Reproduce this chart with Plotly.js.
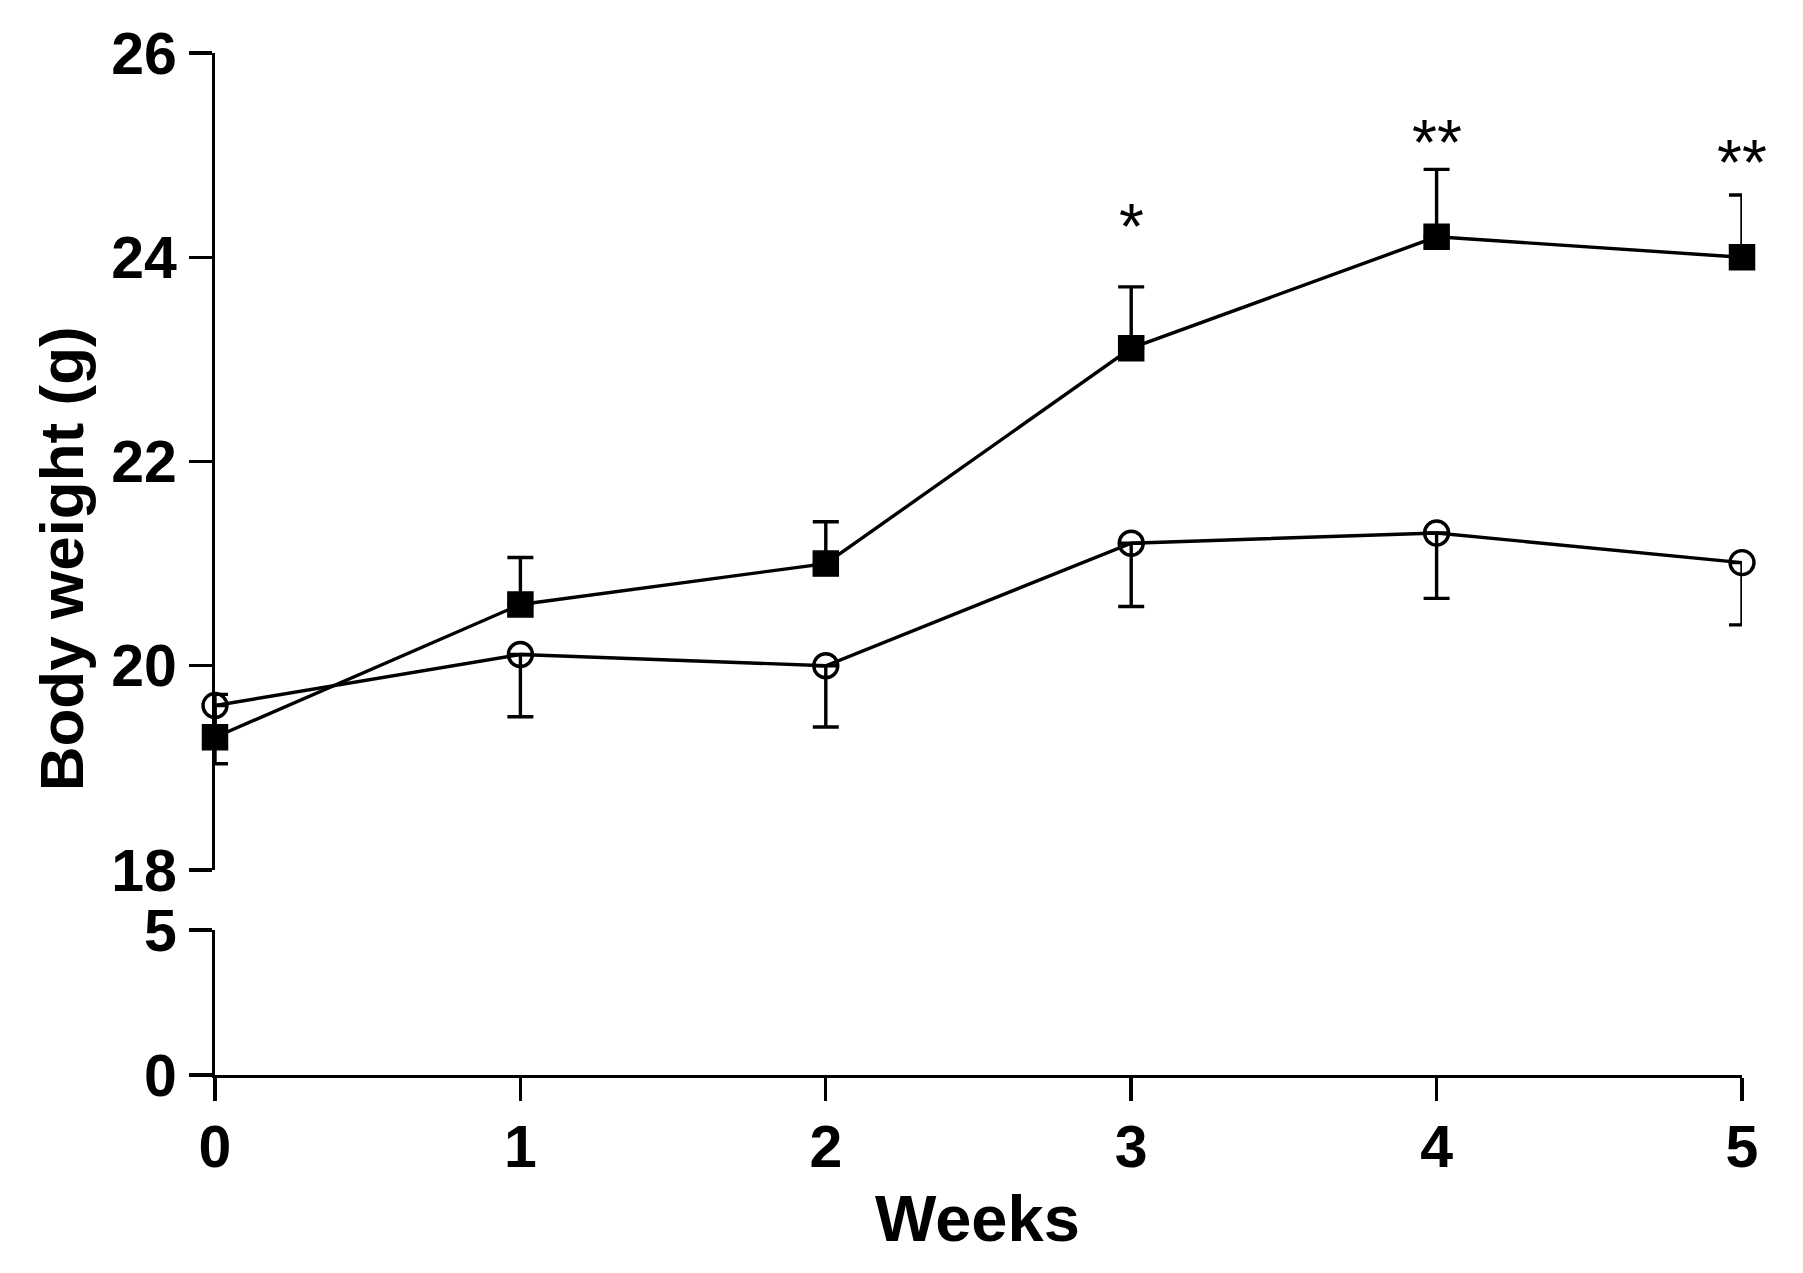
<!DOCTYPE html>
<html>
<head>
<meta charset="utf-8">
<script src="https://cdn.plot.ly/plotly-3.0.1.min.js"></script>
<style>html,body{margin:0;padding:0;background:#fff;}#chart{width:1803px;height:1273px;}</style>
</head>
<body>
<div id="chart"></div>
<script>
// ---- data ----
const weeks = [0, 1, 2, 3, 4, 5];
const squareMean = [19.30, 20.60, 21.00, 23.11, 24.20, 24.00];
const squareErrUp = [0.42, 0.46, 0.41, 0.60, 0.66, 0.61];
const circleMean = [19.61, 20.11, 20.00, 21.20, 21.30, 21.01];
const circleErrDown = [0.57, 0.61, 0.60, 0.62, 0.64, 0.61];
const sigLabels = ['', '', '', '*', '**', '**'];
const sigY = [null, null, null, 24.38, 25.21, 25.01];
const upperTicks = [18, 20, 22, 24, 26];
const lowerTicks = [0, 5];
const xTicks = [0, 1, 2, 3, 4, 5];

const zeros = weeks.map(() => 0);
const FONT = 'Liberation Sans, Arial, Helvetica, sans-serif';

const traces = [
  { // open circles, error bars downward
    x: weeks, y: circleMean, xaxis: 'x', yaxis: 'y2', type: 'scatter', mode: 'lines+markers',
    line: {color: '#000', width: 3.4},
    marker: {symbol: 'circle-open', size: 24, color: '#000', line: {color: '#000', width: 3.4}},
    error_y: {type: 'data', symmetric: false, array: zeros, arrayminus: circleErrDown,
              color: '#000', thickness: 3.4, width: 13},
    cliponaxis: false, showlegend: false, hoverinfo: 'skip'
  },
  { // filled squares, error bars upward
    x: weeks, y: squareMean, xaxis: 'x', yaxis: 'y2', type: 'scatter', mode: 'lines+markers',
    line: {color: '#000', width: 3.4},
    marker: {symbol: 'square', size: 25, color: '#000', line: {color: '#000', width: 1.5}},
    error_y: {type: 'data', symmetric: false, array: squareErrUp, arrayminus: zeros,
              color: '#000', thickness: 3.4, width: 13},
    cliponaxis: false, showlegend: false, hoverinfo: 'skip'
  },
  { x: [], y: [], xaxis: 'x', yaxis: 'y', type: 'scatter', mode: 'markers', showlegend: false }
];

const annotations = [];
weeks.forEach((w, i) => {
  if (sigLabels[i]) {
    annotations.push({
      x: w, y: sigY[i], xref: 'x', yref: 'y2', text: sigLabels[i], showarrow: false,
      xanchor: 'center', yanchor: 'middle', yshift: -9,
      font: {family: FONT, size: 64, color: '#000'}
    });
  }
});
annotations.push({
  x: -0.1, y: 0.5049, xref: 'paper', yref: 'paper', text: 'Body weight (g)',
  textangle: -90, showarrow: false, xanchor: 'center', yanchor: 'middle',
  font: {family: FONT, size: 62, color: '#000', weight: 'bold'}
});
annotations.push({
  x: 0.4995, y: -0.1409, xref: 'paper', yref: 'paper', text: 'Weeks',
  showarrow: false, xanchor: 'center', yanchor: 'middle',
  font: {family: FONT, size: 65, color: '#000', weight: 'bold'}
});

const tickFont = {family: FONT, size: 59, color: '#000', weight: 'bold'};
const lowerTop = 0.1419, upperBottom = 0.2006;

const layout = {
  width: 1803, height: 1273,
  margin: {l: 215, r: 61, t: 53, b: 198},
  paper_bgcolor: '#fff', plot_bgcolor: 'rgba(0,0,0,0)',
  showlegend: false,
  xaxis: {
    range: [0, 5], tickvals: xTicks, ticktext: xTicks.map(String),
    ticks: 'outside', ticklen: 23, tickwidth: 3.4, tickcolor: '#000',
    showline: true, linewidth: 3.4, linecolor: '#000', ticklabelstandoff: -5,
    showgrid: false, zeroline: false, tickfont: tickFont, anchor: 'y'
  },
  yaxis: {
    domain: [0, lowerTop], range: [0, 5], tickvals: lowerTicks, ticktext: lowerTicks.map(String),
    ticks: 'outside', ticklen: 23, tickwidth: 3.4, tickcolor: '#000',
    showline: true, linewidth: 3.4, linecolor: '#000',
    showgrid: false, zeroline: false, tickfont: tickFont, anchor: 'x'
  },
  yaxis2: {
    domain: [upperBottom, 1], range: [18, 26], tickvals: upperTicks, ticktext: upperTicks.map(String),
    ticks: 'outside', ticklen: 23, tickwidth: 3.4, tickcolor: '#000',
    showline: true, linewidth: 3.4, linecolor: '#000',
    showgrid: false, zeroline: false, tickfont: tickFont, anchor: 'x'
  },
  yaxis3: { // break mark at 18 (inner half)
    overlaying: 'y2', range: [18, 26], tickvals: [upperTicks[0]], ticks: 'inside', ticklen: 16,
    tickwidth: 3.4, tickcolor: '#000', showticklabels: false, showline: false,
    showgrid: false, zeroline: false, anchor: 'x', side: 'left'
  },
  yaxis4: { // break mark at 5 (inner half)
    overlaying: 'y', range: [0, 5], tickvals: [lowerTicks[1]], ticks: 'inside', ticklen: 16,
    tickwidth: 3.4, tickcolor: '#000', showticklabels: false, showline: false,
    showgrid: false, zeroline: false, anchor: 'x', side: 'left'
  },
  annotations: annotations
};

Plotly.newPlot('chart', traces, layout, {displayModeBar: false, staticPlot: true});
</script>
</body>
</html>
